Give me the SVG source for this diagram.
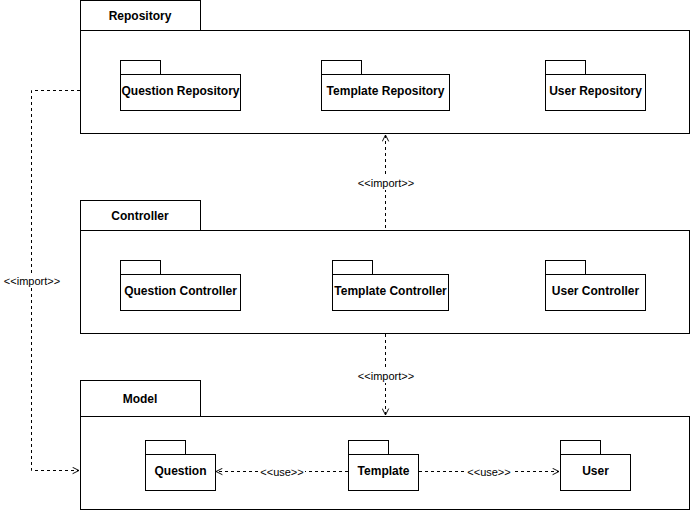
<svg xmlns="http://www.w3.org/2000/svg" width="691" height="511" viewBox="0 0 691 511">
<style>
.pk{fill:#fff;stroke:#000;stroke-width:1}
.t{font-family:"Liberation Sans",Arial,sans-serif;font-size:12px;font-weight:bold;fill:#000;text-anchor:middle;dominant-baseline:central}
.e{fill:none;stroke:#000;stroke-width:1;stroke-dasharray:3 3}
.lb{font-family:"Liberation Sans",Arial,sans-serif;font-size:11px;fill:#000;text-anchor:middle;dominant-baseline:central}
.bg{fill:#fff}
</style>
<defs>
<marker id="oa" viewBox="0 0 10 10" refX="9" refY="5" markerWidth="8" markerHeight="8" orient="auto" markerUnits="userSpaceOnUse">
<path d="M1,1 L9,5 L1,9" fill="none" stroke="#000" stroke-width="1.2"/>
</marker>
</defs>
<rect width="691" height="511" fill="#fff"/>
<g id="repository">
<rect class="pk" x="80.5" y="0.5" width="120" height="30"/>
<rect class="pk" x="80.5" y="30.5" width="609" height="103"/>
<text class="t" x="140" y="16">Repository</text>
</g>
<g id="question-repository">
<rect class="pk" x="120.5" y="60.5" width="40" height="14"/>
<rect class="pk" x="120.5" y="74.5" width="120" height="36"/>
<text class="t" x="180.5" y="91">Question Repository</text>
</g>
<g id="template-repository">
<rect class="pk" x="321.5" y="60.5" width="40" height="14"/>
<rect class="pk" x="321.5" y="74.5" width="128" height="36"/>
<text class="t" x="385.5" y="91">Template Repository</text>
</g>
<g id="user-repository">
<rect class="pk" x="545.5" y="60.5" width="40" height="14"/>
<rect class="pk" x="545.5" y="74.5" width="100" height="36"/>
<text class="t" x="595.5" y="91">User Repository</text>
</g>
<g id="controller">
<rect class="pk" x="80.5" y="200.5" width="120" height="30"/>
<rect class="pk" x="80.5" y="230.5" width="609" height="103"/>
<text class="t" x="140" y="216">Controller</text>
</g>
<g id="question-controller">
<rect class="pk" x="120.5" y="260.5" width="40" height="14"/>
<rect class="pk" x="120.5" y="274.5" width="120" height="36"/>
<text class="t" x="180.5" y="291">Question Controller</text>
</g>
<g id="template-controller">
<rect class="pk" x="332.5" y="260.5" width="40" height="14"/>
<rect class="pk" x="332.5" y="274.5" width="116" height="36"/>
<text class="t" x="390.5" y="291">Template Controller</text>
</g>
<g id="user-controller">
<rect class="pk" x="545.5" y="260.5" width="40" height="14"/>
<rect class="pk" x="545.5" y="274.5" width="100" height="36"/>
<text class="t" x="595.5" y="291">User Controller</text>
</g>
<g id="model">
<rect class="pk" x="80.5" y="380.5" width="120" height="36"/>
<rect class="pk" x="80.5" y="416.5" width="609" height="93"/>
<text class="t" x="140" y="399">Model</text>
</g>
<g id="question">
<rect class="pk" x="145.5" y="440.5" width="40" height="14"/>
<rect class="pk" x="145.5" y="454.5" width="70" height="36"/>
<text class="t" x="180.5" y="471">Question</text>
</g>
<g id="template">
<rect class="pk" x="348.5" y="440.5" width="40" height="14"/>
<rect class="pk" x="348.5" y="454.5" width="70" height="36"/>
<text class="t" x="383.5" y="471">Template</text>
</g>
<g id="user">
<rect class="pk" x="560.5" y="440.5" width="40" height="14"/>
<rect class="pk" x="560.5" y="454.5" width="70" height="36"/>
<text class="t" x="595.5" y="471">User</text>
</g>
<g id="connectors">
<path class="e" d="M385.5,228 L385.5,135" marker-end="url(#oa)"/>
<rect class="bg" x="355" y="176" width="62" height="14"/>
<text class="lb" x="386" y="183">&lt;&lt;import&gt;&gt;</text>
<path class="e" d="M385.5,334 L385.5,415" marker-end="url(#oa)"/>
<rect class="bg" x="355" y="369" width="62" height="14"/>
<text class="lb" x="386" y="376">&lt;&lt;import&gt;&gt;</text>
<path class="e" d="M80,90.5 L31.5,90.5 L31.5,470.5 L79,470.5" marker-end="url(#oa)"/>
<rect class="bg" x="1" y="274" width="62" height="14"/>
<text class="lb" x="32" y="281">&lt;&lt;import&gt;&gt;</text>
<path class="e" d="M348,471.5 L216,471.5" marker-end="url(#oa)"/>
<rect class="bg" x="259" y="465" width="46" height="14"/>
<text class="lb" x="282" y="472">&lt;&lt;use&gt;&gt;</text>
<path class="e" d="M419,471.5 L559,471.5" marker-end="url(#oa)"/>
<rect class="bg" x="466" y="465" width="46" height="14"/>
<text class="lb" x="489" y="472">&lt;&lt;use&gt;&gt;</text>
</g>
</svg>
